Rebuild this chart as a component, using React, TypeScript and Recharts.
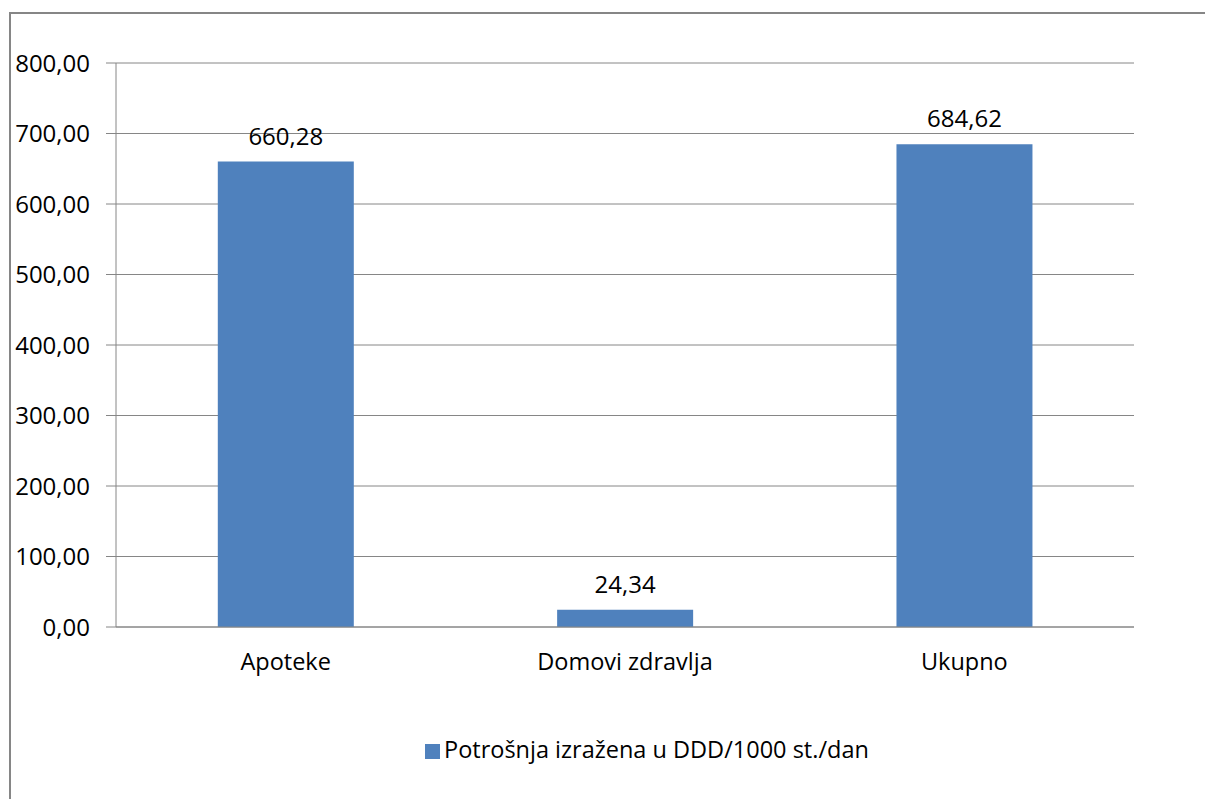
import React from "react";
import { BarChart, Bar, XAxis, YAxis, CartesianGrid, Legend, LabelList } from "recharts";

const categories = ["Apoteke", "Domovi zdravlja", "Ukupno"];
const values = [660.28, 24.34, 684.62];
const yTicks = [0, 100, 200, 300, 400, 500, 600, 700, 800];
const boundaryTicks = [0, 1, 2, 3];
const seriesName = "Potrošnja izražena u DDD/1000 st./dan";

const data = categories.map((name, i) => ({ name, value: values[i] }));

const fmt = (v: number) => Number(v).toFixed(2).replace(".", ",");
const FONT = "'Open Sans', sans-serif";
const GRAY = "#868686";

export default function App() {
  return (
    <div style={{ position: "fixed", left: 0, top: 0, width: 1205, height: 799, overflow: "hidden", background: "#fff", fontFamily: FONT }}>
      <div style={{ position: "absolute", left: 9, top: 12, width: 1400, height: 1000, borderLeft: `2px solid ${GRAY}`, borderTop: `2px solid ${GRAY}` }} />
      <div style={{ position: "absolute", left: 0, top: 0 }}>
        <BarChart width={1205} height={799} data={data} margin={{ top: 63, right: 71, bottom: 0, left: 0 }} barCategoryGap="30%">
          <CartesianGrid horizontal vertical={false} stroke={GRAY} strokeWidth={1} />
          <XAxis xAxisId="b" type="number" domain={[0, 3]} ticks={boundaryTicks} tick={false} tickSize={5} tickLine={{ stroke: GRAY }} axisLine={false} height={1} allowDataOverflow />
          <XAxis dataKey="name" tickLine={false} tickSize={0} tickMargin={26} axisLine={{ stroke: GRAY }} tick={{ fill: "#000", fontSize: 23.5, fontFamily: FONT }} height={139} />
          <YAxis domain={[0, 800]} ticks={yTicks} tickFormatter={fmt} width={116} tickSize={10} tickMargin={16} axisLine={{ stroke: GRAY }} tickLine={{ stroke: GRAY }} tick={{ fill: "#000", fontSize: 24, fontFamily: FONT }} interval={0} />
          <Legend
            verticalAlign="bottom"
            iconType="square"
            iconSize={15}
            wrapperStyle={{ left: 425, top: 733, width: "auto", fontSize: 23.5, fontFamily: FONT }}
            formatter={(v: string) => <span style={{ color: "#000" }}>{v}</span>}
          />
          <Bar dataKey="value" name={seriesName} fill="#4F81BD" isAnimationActive={false}>
            <LabelList dataKey="value" position="top" offset={17} formatter={(v: number) => fmt(v)} style={{ fill: "#000", fontSize: 24, fontFamily: FONT }} />
          </Bar>
        </BarChart>
      </div>
    </div>
  );
}
